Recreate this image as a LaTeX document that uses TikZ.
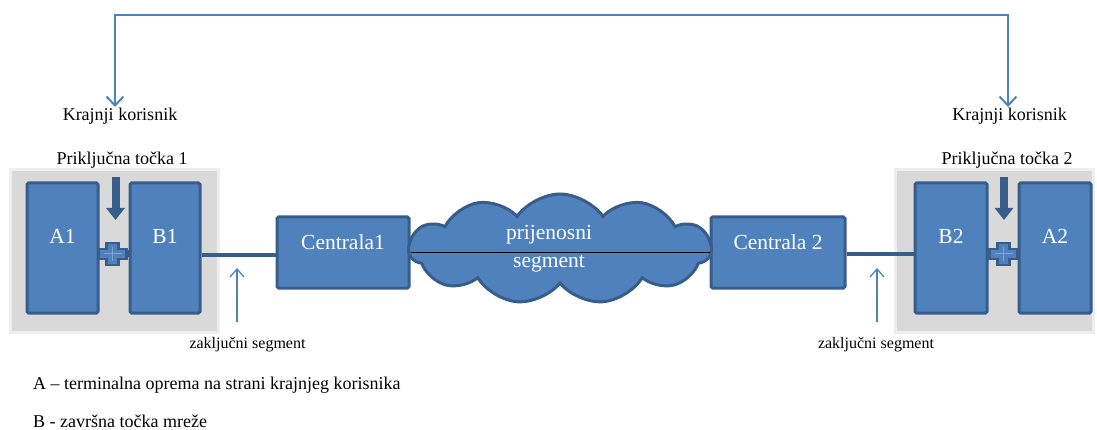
\documentclass[tikz,border=0pt]{standalone}
\usepackage{fontspec}
\setmainfont{Liberation Serif}
\usetikzlibrary{shapes.symbols,arrows.meta}
\definecolor{boxfill}{HTML}{4F81BD}
\definecolor{boxline}{HTML}{385D8A}
\definecolor{pluslight}{HTML}{7FA3D3}
\definecolor{grayfill}{HTML}{D9D9D9}
\definecolor{grayline}{HTML}{EEEEEE}
\tikzset{
  graybox/.style={draw=grayline,line width=3pt,fill=grayfill,minimum width=#1,minimum height=162pt,inner sep=0pt},
  bluebox/.style={draw=boxline,line width=3pt,fill=boxfill,rounded corners=1.5pt,inner sep=0pt},
  boxtext/.style={text=white,font=\fontsize{21.5}{23}\selectfont,inner sep=0pt},
  lbl/.style={font=\fontsize{18}{20}\selectfont,inner sep=0pt},
  smalllbl/.style={font=\fontsize{16}{18}\selectfont,inner sep=0pt},
  link/.style={draw=boxline,line width=4pt},
  thinarrow/.style={draw=boxfill,line width=1.3pt,-{Straight Barb[length=8pt,width=14pt]}},
  toparrow/.style={draw=boxfill,line width=2pt,{Straight Barb[length=9pt,width=17pt]}-{Straight Barb[length=9pt,width=17pt]}},
  fatarrow/.style={draw=boxline,line width=8pt,-{Triangle[length=12pt,width=18pt]}},
  plussign/.style={fill=boxfill,draw=boxline,line width=2.5pt},
  plusinner/.style={draw=pluslight,line width=1pt}
}
\begin{document}
\begin{tikzpicture}[x=1pt,y=-1pt]
\useasboundingbox (0,0) rectangle (1097,430);
% gray areas
\node[graybox=208pt] (g1) at (114,251) {};
\node[graybox=198pt] (g2) at (994,251) {};
% plus connectors (behind the boxes)
\foreach \cx/\l/\r in {112.5/A1/B1, 1003.5/B2/A2}{
  \draw[link,line width=7pt] (\cx-18,254) -- (\cx+18,254);
  \filldraw[plussign] (\cx-14,249) -- (\cx-6,249) -- (\cx-6,243) -- (\cx+6,243) -- (\cx+6,249) -- (\cx+14,249)
    -- (\cx+14,259) -- (\cx+6,259) -- (\cx+6,265) -- (\cx-6,265) -- (\cx-6,259) -- (\cx-14,259) -- cycle;
  \draw[plusinner] (\cx-9,254) -- (\cx+9,254) (\cx,247) -- (\cx,261);
}
% blue boxes
\node[bluebox,minimum width=71pt,minimum height=130pt] (A1) at (62.5,248) {};
\node[bluebox,minimum width=70pt,minimum height=130pt] (B1) at (165,248) {};
\node[bluebox,minimum width=72pt,minimum height=130pt] (B2) at (951,248) {};
\node[bluebox,minimum width=72pt,minimum height=130pt] (A2) at (1055,248) {};
\node[bluebox,minimum width=132pt,minimum height=71pt] (C1) at (343,252.5) {};
\node[bluebox,minimum width=134pt,minimum height=71pt] (C2) at (778,252.5) {};
\node[boxtext] (tA1) at (62.5,236) {A1};
\node[boxtext] (tB1) at (165,236) {B1};
\node[boxtext] (tB2) at (951,236) {B2};
\node[boxtext] (tA2) at (1055,236) {A2};
\node[boxtext] (tC1) at (343,242) {Centrala1};
\node[boxtext] (tC2) at (778,242) {Centrala 2};
% cloud
\node[cloud,cloud puffs=11,cloud puff arc=110,aspect=2.9,draw=boxline,line width=3pt,fill=boxfill,minimum width=302pt,minimum height=110pt] (cl) at (560,249) {};
\node[boxtext] (tcl1) at (549,235) {prijenosni};
\node[boxtext] (tcl2) at (549,264) {segment};
\draw[black,line width=1.5pt] (C1.east) -- (C2.west);
% links
\draw[link] (B1.east |- 0,255) -- (C1.west |- 0,255);
\draw[link] (C2.east |- 0,254) -- (B2.west |- 0,254);
% labels
\node[lbl] (P1) at (122,160) {Priključna točka 1};
\node[lbl] (P2) at (1007,160) {Priključna točka 2};
\node[lbl] (K1) at (120,116) {Krajnji korisnik};
\node[lbl] (K2) at (1009.5,116) {Krajnji korisnik};
\node[smalllbl] (Z1) at (247.5,345) {zaključni segment};
\node[smalllbl] (Z2) at (876,345) {zaključni segment};
\node[lbl,anchor=west] (L1) at (33,385) {A -- terminalna oprema na strani krajnjeg korisnika};
\node[lbl,anchor=west] (L2) at (33,421) {B - završna točka mreže};
% fat arrows
\coordinate (pa1) at (115.5,177);
\coordinate (pa2) at (1004,177);
\draw[fatarrow] (pa1) -- (pa1 |- 0,220);
\draw[fatarrow] (pa2) -- (pa2 |- 0,220);
% thin arrows
\coordinate (z1) at (237,322);
\coordinate (z2) at (877,322);
\draw[thinarrow] (z1) -- (z1 |- 0,268);
\draw[thinarrow] (z2) -- (z2 |- 0,268);
% top connector
\coordinate (top) at (560,15);
\coordinate (k1) at (115,107);
\coordinate (k2) at (1008,107);
\draw[toparrow] (k1) |- (top) -| (k2);
\end{tikzpicture}
\end{document}
